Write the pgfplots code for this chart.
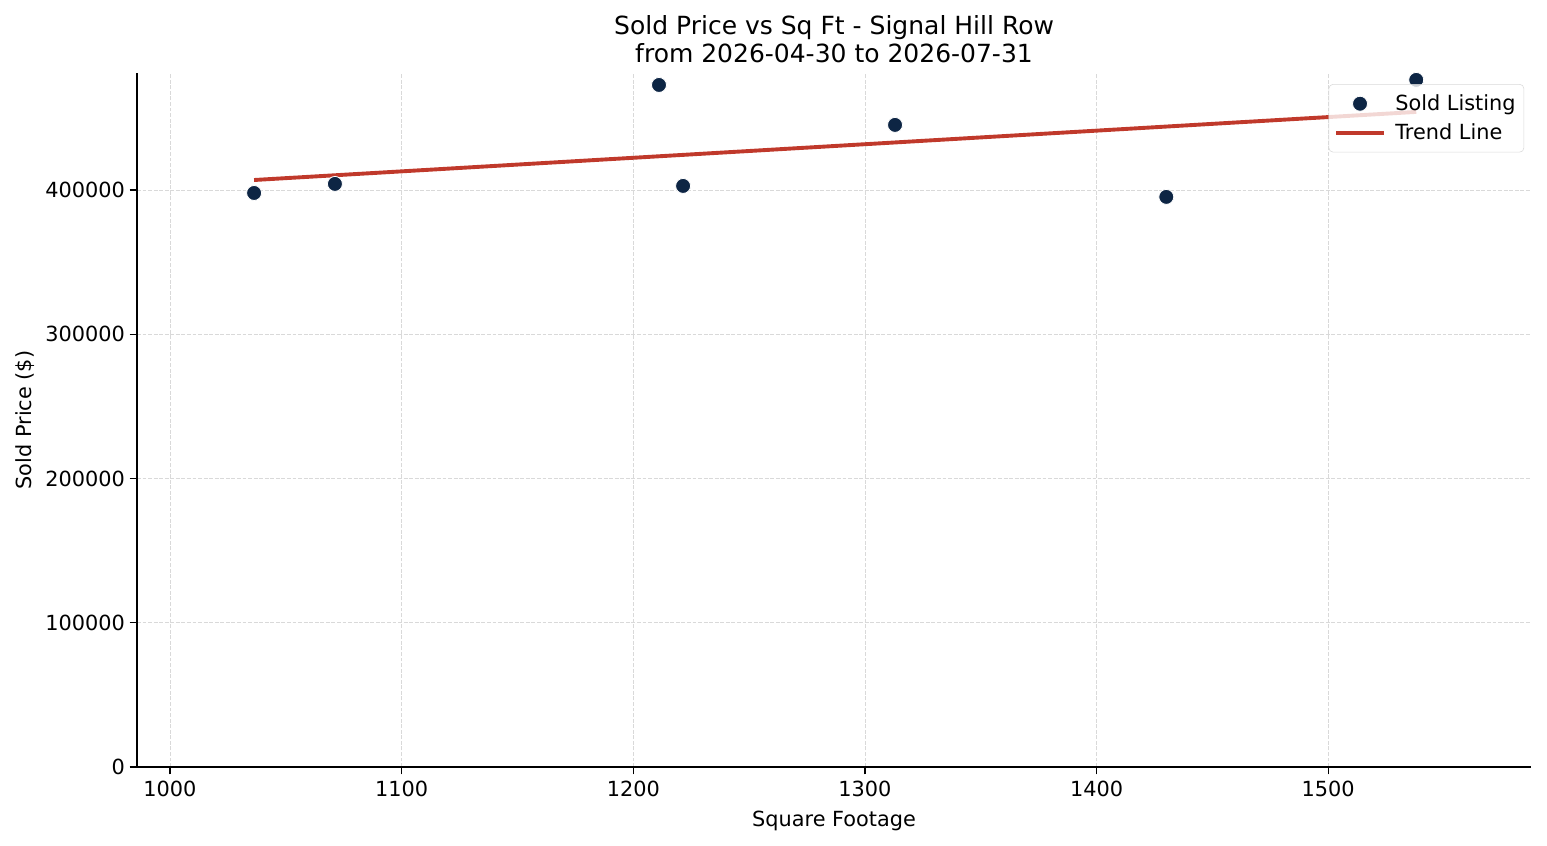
\documentclass[border=0pt]{standalone}
\usepackage{pgfplots}
\pgfplotsset{compat=1.18}
\usepackage{fontspec}
\setmainfont{DejaVu Sans}
\definecolor{navy}{HTML}{0D2544}
\definecolor{trend}{HTML}{C0392B}
\pgfplotsset{
    ptlegend/.style={legend image code/.code={\draw[##1] plot coordinates {(17pt,0pt)};}},
    lnlegend/.style={legend image code/.code={\draw[##1] (0pt,0pt) -- (34pt,0pt);}},
}
\begin{document}
\begin{tikzpicture}[x=1pt,y=1pt]
% 1 px of the reference = 0.72pt
\useasboundingbox (-98.64,-56.16) rectangle (1015.2,552.24);
\begin{axis}[
    scale only axis,
    width=1003.7pt, height=499.7pt,
    xmin=985.75, xmax=1587.6,
    ymin=0, ymax=481100,
    axis x line*=bottom, axis y line*=left,
    axis line style={-, line width=1.1pt},
    tick align=outside, major tick length=5.25pt,
    tick style={black, line width=1pt},
    xtick={1000,1100,1200,1300,1400,1500},
    ytick={0,100000,200000,300000,400000},
    scaled ticks=false,
    /pgf/number format/fixed,
    /pgf/number format/1000 sep={},
    /pgf/number format/assume math mode=true,
    ticklabel style={font=\fontsize{15}{18}\selectfont},
    xticklabel style={yshift=-1pt},
    grid=major,
    major grid style={dash pattern=on 2.8pt off 1.2pt, gray!30, line width=0.6pt},
    title={Sold Price vs Sq Ft - Signal Hill Row\\from 2026-04-30 to 2026-07-31},
    title style={font=\fontsize{18}{20}\selectfont, align=center, yshift=-2pt},
    xlabel={Square Footage},
    ylabel={Sold Price (\$)},
    label style={font=\fontsize{15}{18}\selectfont},
    xlabel style={yshift=-4pt},
    ylabel style={yshift=1pt},
    legend style={at={(0.995,0.984)}, anchor=north east,
        draw=gray!30, rounded corners=3pt, fill=white, fill opacity=0.8,
        draw opacity=1, text opacity=1, font=\fontsize{15}{18}\selectfont,
        row sep=4pt, inner xsep=4pt, inner ysep=5.5pt},
    legend image post style={opacity=1, fill opacity=1},
    legend cell align=left,
    clip=false,
]
\addplot[only marks, mark=*, mark size=5.4pt,
    mark options={fill=navy, draw=white, line width=0.6pt}, ptlegend]
coordinates {
    (1036.3, 397900) (1071.2, 404200) (1211.1, 472800) (1221.5, 402800)
    (1313.0, 445100) (1430.1, 395200) (1538.0, 476300)
};
\addlegendentry{\hspace{5pt}Sold Listing}
\addplot[trend, line width=2.8pt, lnlegend]
coordinates {
    (1036.3, 406900) (1538.0, 454100)
};
\addlegendentry{\hspace{5pt}Trend Line}
\end{axis}
\end{tikzpicture}
\end{document}
